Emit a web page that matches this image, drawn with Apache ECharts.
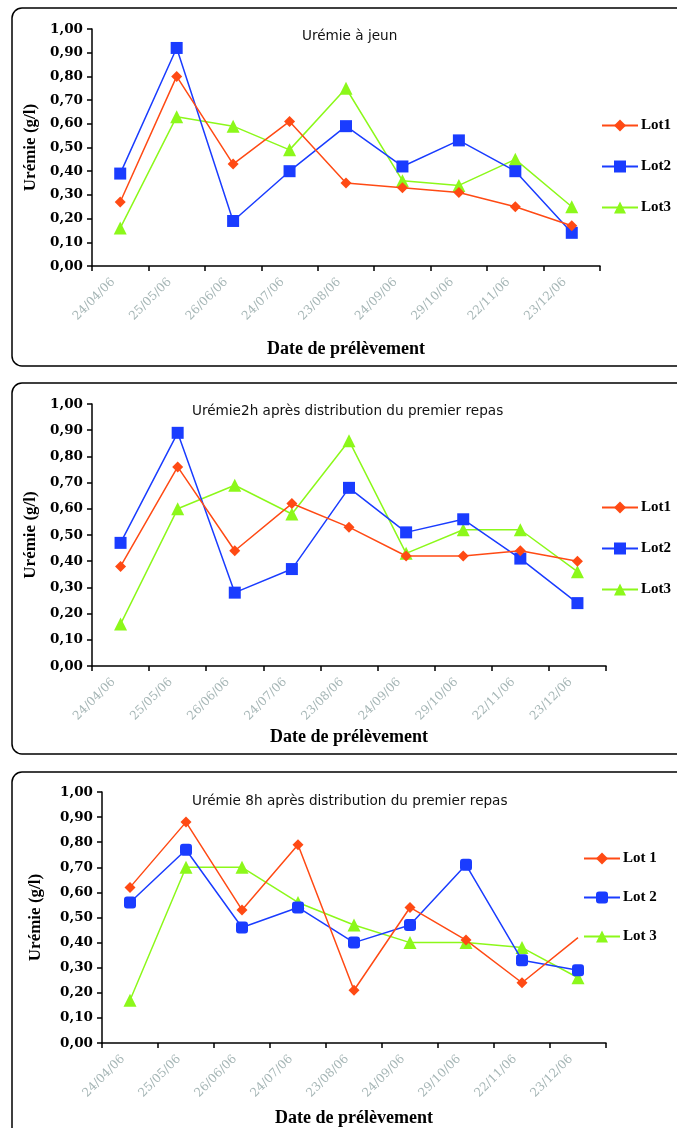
<!DOCTYPE html>
<html><head><meta charset="utf-8">
<script src="https://cdn.jsdelivr.net/npm/echarts@6/dist/echarts.min.js"></script>
<style>html,body{margin:0;padding:0;background:#fff}#c{width:677px;height:1128px}</style>
</head><body><div id="c"></div>
<script>
// ---- data ----
const categories = ['24/04/06','25/05/06','26/06/06','24/07/06','23/08/06','24/09/06','29/10/06','22/11/06','23/12/06'];
const panelTitles = ['Urémie à jeun','Urémie2h après distribution du premier repas','Urémie 8h après distribution du premier repas'];
const yAxisTitle = 'Urémie (g/l)';
const xAxisTitle = 'Date de prélèvement';
const lotNamesA = ['Lot1','Lot2','Lot3'];
const lotNamesB = ['Lot 1','Lot 2','Lot 3'];

// Urémie à jeun
const jeunLot1 = [0.27,0.80,0.43,0.61,0.35,0.33,0.31,0.25,0.17];
const jeunLot2 = [0.39,0.92,0.19,0.40,0.59,0.42,0.53,0.40,0.14];
const jeunLot3 = [0.16,0.63,0.59,0.49,0.75,0.36,0.34,0.45,0.25];
// Urémie 2h après repas
const h2Lot1 = [0.38,0.76,0.44,0.62,0.53,0.42,0.42,0.44,0.40];
const h2Lot2 = [0.47,0.89,0.28,0.37,0.68,0.51,0.56,0.41,0.24];
const h2Lot3 = [0.16,0.60,0.69,0.58,0.86,0.43,0.52,0.52,0.36];
// Urémie 8h après repas
const h8Lot1 = [0.62,0.88,0.53,0.79,0.21,0.54,0.41,0.24,0.42];
const h8Lot2 = [0.56,0.77,0.46,0.54,0.40,0.47,0.71,0.33,0.29];
const h8Lot3 = [0.17,0.70,0.70,0.56,0.47,0.40,0.40,0.38,0.26];

// ---- layout / style ----
const colors = ['#FF4A14','#1A3CFF','#8CF81A'];
const symbolsA = ['diamond','rect','triangle'];
const symbolsB = ['diamond','roundRect','triangle'];
const symSizes = [11,12,13];
const serif = 'Liberation Serif';

const panels = [
  {grid:{left:92, top:29, width:508, height:237}, data:[jeunLot1,jeunLot2,jeunLot3], names:lotNamesA, syms:symbolsA,
   title:{left:302, top:29}, legend:{left:601, top:118, gap:26}, xNameGap:74, yNameGap:49, hideLast:false},
  {grid:{left:92, top:404, width:514, height:262}, data:[h2Lot1,h2Lot2,h2Lot3], names:lotNamesA, syms:symbolsA,
   title:{left:192, top:404}, legend:{left:601, top:500, gap:26}, xNameGap:62, yNameGap:49, hideLast:false},
  {grid:{left:102, top:792, width:504, height:251}, data:[h8Lot1,h8Lot2,h8Lot3], names:lotNamesB, syms:symbolsB,
   title:{left:192, top:794}, legend:{left:583, top:851, gap:24}, xNameGap:66, yNameGap:58, hideLast:true}
];

const fmt = v => v.toFixed(2).replace('.', ',');

const option = {
  animation:false,
  backgroundColor:'#fff',
  title:[], legend:[], grid:[], xAxis:[], yAxis:[], series:[],
  graphic:[
    {type:'rect', shape:{x:12, y:8, width:700, height:358, r:10}, style:{fill:'none', stroke:'#000', lineWidth:1.5}, silent:true},
    {type:'rect', shape:{x:12, y:383, width:700, height:371, r:10}, style:{fill:'none', stroke:'#000', lineWidth:1.5}, silent:true},
    {type:'rect', shape:{x:12, y:772, width:700, height:400, r:10}, style:{fill:'none', stroke:'#000', lineWidth:1.5}, silent:true}
  ]
};

panels.forEach((p, i) => {
  option.title.push({text:panelTitles[i], left:p.title.left, top:p.title.top, padding:0,
    textStyle:{fontFamily:'DejaVu Sans', fontWeight:'normal', fontSize:13.6, color:'#111'}});
  option.grid.push(Object.assign({containLabel:false}, p.grid));
  option.legend.push({orient:'vertical', left:p.legend.left, top:p.legend.top, itemGap:p.legend.gap, padding:0,
    itemWidth:36, itemHeight:15, data:p.names,
    textStyle:{fontFamily:serif, fontWeight:'bold', fontSize:15, color:'#000', lineHeight:15, padding:[0,0,0,-2]}});
  option.xAxis.push({type:'category', gridIndex:i, data:categories, boundaryGap:true,
    name:xAxisTitle, nameLocation:'middle', nameGap:p.xNameGap,
    nameTextStyle:{fontFamily:serif, fontWeight:'bold', fontSize:18, color:'#000'},
    axisLine:{lineStyle:{color:'#000', width:1.5}},
    axisTick:{show:true, inside:false, length:5, lineStyle:{color:'#000', width:1.5}},
    axisLabel:{interval:0, rotate:45, margin:7, padding:[0,10,0,0], fontFamily:'DejaVu Serif', fontSize:12, color:'#a6b6b6'},
    splitLine:{show:false}});
  option.yAxis.push({type:'value', gridIndex:i, min:0, max:1, interval:0.1,
    name:yAxisTitle, nameLocation:'middle', nameGap:p.yNameGap, nameRotate:90,
    nameTextStyle:{fontFamily:serif, fontWeight:'bold', fontSize:17, color:'#000'},
    axisLine:{show:true, lineStyle:{color:'#000', width:1.5}},
    axisTick:{show:true, inside:false, length:5, lineStyle:{color:'#000', width:1.5}},
    axisLabel:{formatter:fmt, margin:9, fontFamily:'DejaVu Serif', fontWeight:'bold', fontSize:13.5, color:'#000'},
    splitLine:{show:false}});
  p.data.forEach((arr, k) => {
    const d = arr.map((v, j) => (p.hideLast && k === 0 && j === arr.length - 1) ? {value:v, symbol:'none'} : v);
    option.series.push({type:'line', name:p.names[k], xAxisIndex:i, yAxisIndex:i, data:d,
      symbol:p.syms[k], symbolSize:symSizes[k], showAllSymbol:true,
      lineStyle:{color:colors[k], width:1.5}, itemStyle:{color:colors[k]}, z:3 - k});
  });
});

const chart = echarts.init(document.getElementById('c'), null, {renderer:'canvas'});
chart.setOption(option);
</script></body></html>
